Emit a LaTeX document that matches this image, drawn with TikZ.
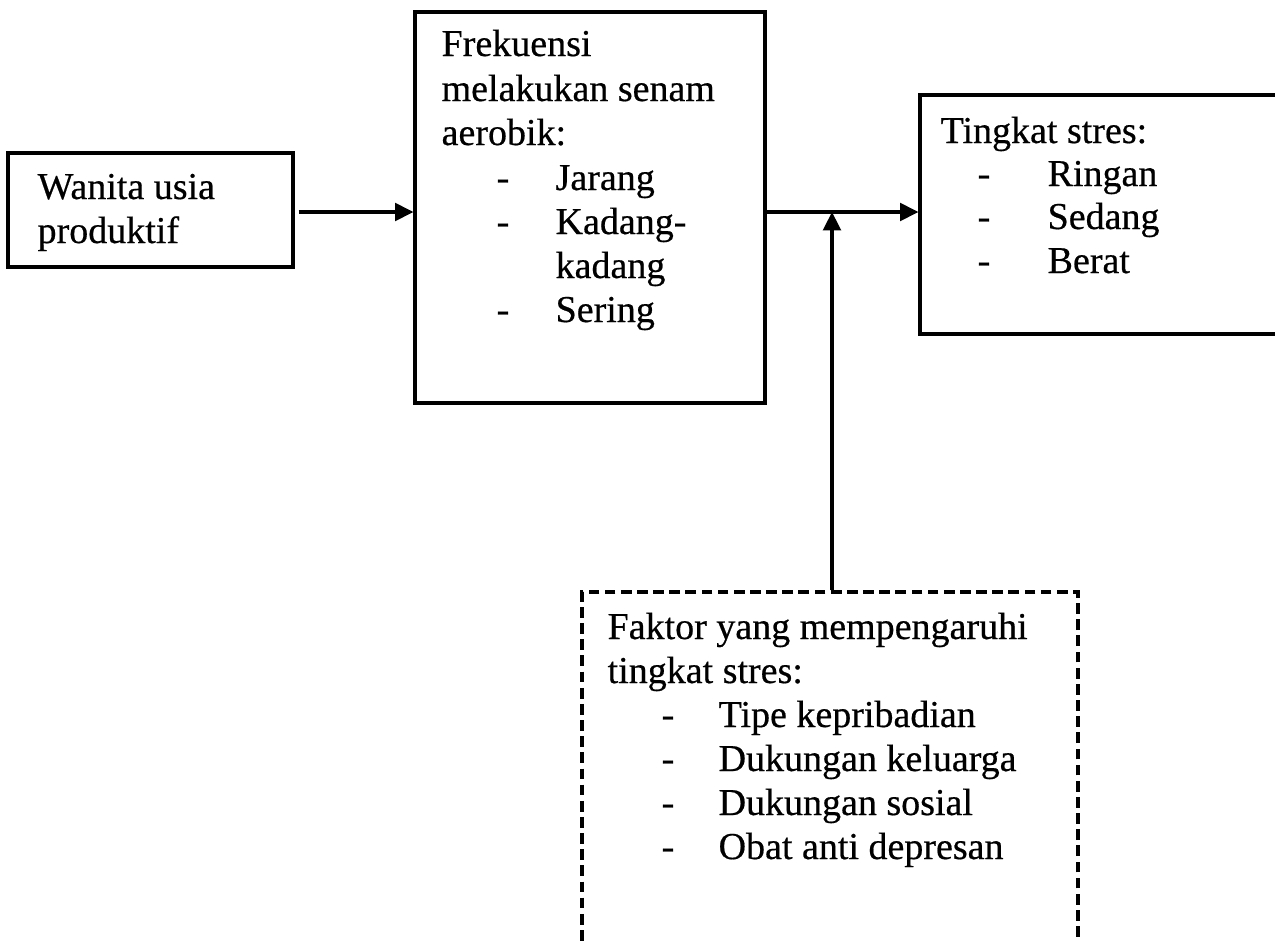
\documentclass[tikz,border=0pt]{standalone}
\usepackage{fontspec}
\setmainfont{Liberation Serif}[FakeBold=0.5]
\usetikzlibrary{arrows.meta,fit}
\begin{document}
\begin{tikzpicture}[x=0.31579pt,y=-0.31579pt,
  box/.style={draw, line width=1pt, inner sep=0pt},
  dbox/.style={box, dash pattern=on 3.4pt off 1.7pt},
  txt/.style={anchor=base west, inner sep=0pt, font=\fontsize{12}{14}\selectfont},
  conn/.style={line width=1pt, -{Triangle[length=5.8pt,width=5.6pt]}}]
\useasboundingbox (0,0) rectangle (1275,942);
\clip (0,0) rectangle (1275,942);
\fill[white] (0,0) rectangle (1275,942);
% boxes
\node[box, fit={(8,153) (293,267)}] (A) {};
\node[box, fit={(415,12) (765,403)}] (B) {};
\node[box, fit={(920,95) (1320,334)}] (C) {};
\node[dbox, fit={(582,592) (1078,990)}] (D) {};
\coordinate (J) at (832,212);
% box A text
\node[txt] (a1) at (37,199) {Wanita usia};
\node[txt] (a2) at (37,243) {produktif};
% box B text
\node[txt] (b1) at (441,56) {Frekuensi};
\node[txt] (b2) at (441,101) {melakukan senam};
\node[txt] (b3) at (441,145) {aerobik:};
\node[txt] (b4d) at (496,190) {-};
\node[txt] (b4) at (555,190) {Jarang};
\node[txt] (b5d) at (496,234) {-};
\node[txt] (b5) at (555,234) {Kadang-};
\node[txt] (b6) at (555,278) {kadang};
\node[txt] (b7d) at (496,322) {-};
\node[txt] (b7) at (555,322) {Sering};
% box C text
\node[txt] (c1) at (940,143) {Tingkat stres:};
\node[txt] (c2d) at (977,186) {-};
\node[txt] (c2) at (1047,186) {Ringan};
\node[txt] (c3d) at (977,229) {-};
\node[txt] (c3) at (1047,229) {Sedang};
\node[txt] (c4d) at (977,273) {-};
\node[txt] (c4) at (1047,273) {Berat};
% box D text
\node[txt] (d1) at (607,639) {Faktor yang mempengaruhi};
\node[txt] (d2) at (607,683) {tingkat stres:};
\node[txt] (d3d) at (661,727) {-};
\node[txt] (d3) at (718,727) {Tipe kepribadian};
\node[txt] (d4d) at (661,771) {-};
\node[txt] (d4) at (718,771) {Dukungan keluarga};
\node[txt] (d5d) at (661,815) {-};
\node[txt] (d5) at (718,815) {Dukungan sosial};
\node[txt] (d6d) at (661,859) {-};
\node[txt] (d6) at (718,859) {Obat anti depresan};
% connectors
\draw[conn, shorten <=1.3pt] (A.east |- J) -- (B.west |- J);
\draw[conn] (B.east |- J) -- (C.west |- J);
\draw[conn] (J |- D.north) -- (J);
\end{tikzpicture}
\end{document}
